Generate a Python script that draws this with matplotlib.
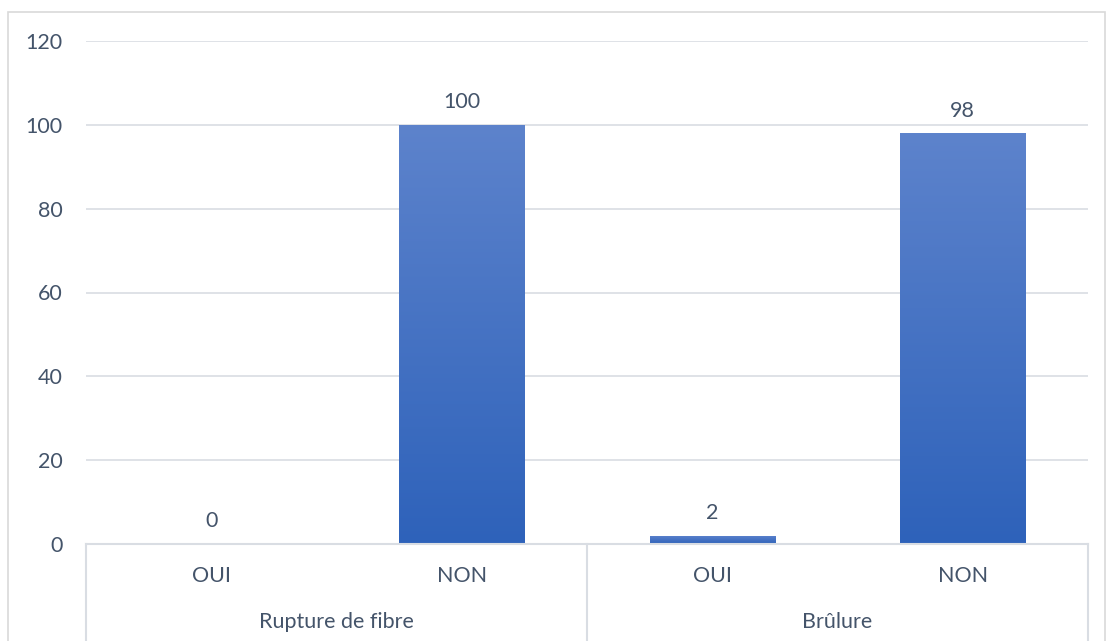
import numpy as np
import matplotlib.pyplot as plt
from matplotlib.lines import Line2D
from matplotlib.patches import Rectangle
from matplotlib.colors import LinearSegmentedColormap

plt.rcParams['font.family'] = ['Lato', 'DejaVu Sans']

groups = ['Rupture de fibre', 'Brûlure']
answers = ['OUI', 'NON', 'OUI', 'NON']
values = [0, 100, 2, 98]

W, H = 1113, 641
fig = plt.figure(figsize=(W / 100, H / 100), dpi=100)
left, right, top, bottom = 86, 1088, 41, 544
ax = fig.add_axes([left / W, 1 - bottom / H, (right - left) / W, (bottom - top) / H])

text_col = '#44546a'
grid_col = '#d9dde3'
fs = 15.5

x = np.arange(len(values))
bars = ax.bar(x, values, width=0.5, color='none', zorder=3)

# gradient fill, lighter on top
grad = np.linspace(0, 1, 256).reshape(-1, 1)
cmap = LinearSegmentedColormap.from_list('g', ['#2e62ba', '#5d83cc'])
for b in bars:
    h = b.get_height()
    if h <= 0:
        continue
    im = ax.imshow(grad, cmap=cmap, aspect='auto', origin='lower',
                   extent=[b.get_x(), b.get_x() + b.get_width(), 0, h], zorder=3)
    im.set_clip_path(b)
ax.set_xlim(-0.5, len(values) - 0.5)
ax.set_ylim(0, 120)

for xi, v in zip(x, values):
    ax.text(xi, v + 3, str(v), ha='center', va='bottom', fontsize=fs, color=text_col)

ax.set_yticks(range(0, 121, 20))
ax.yaxis.grid(True, color=grid_col, lw=1.2)
ax.set_axisbelow(True)
ax.tick_params(axis='y', length=0, labelsize=fs, labelcolor=text_col, pad=17)
ax.set_xticks([])
for s in ax.spines.values():
    s.set_visible(False)

# category axis lines and labels
def fx(px):
    return px / W

def fy(py):
    return 1 - py / H

fig.add_artist(Line2D([fx(left), fx(right)], [fy(bottom), fy(bottom)], color=grid_col, lw=1.5))
for px in [left, (left + right) / 2, right]:
    fig.add_artist(Line2D([fx(px), fx(px)], [fy(bottom), fy(H)], color=grid_col, lw=1.5))

for xi, lab in zip(x, answers):
    ax.annotate(lab, xy=(xi, 0), xycoords=('data', 'axes fraction'), xytext=(0, -32),
                textcoords='offset pixels', ha='center', va='center', fontsize=fs, color=text_col)
for gi, g in enumerate(groups):
    ax.annotate(g, xy=(gi * 2 + 0.5, 0), xycoords=('data', 'axes fraction'), xytext=(0, -78),
                textcoords='offset pixels', ha='center', va='center', fontsize=fs, color=text_col)

# outer chart border
fig.add_artist(Rectangle((fx(8), fy(H + 5)), fx(1105 - 8), fy(12) - fy(H + 5),
                         fill=False, edgecolor='#d9d9d9', lw=1.2))

fig.savefig('out.png', dpi=100)
